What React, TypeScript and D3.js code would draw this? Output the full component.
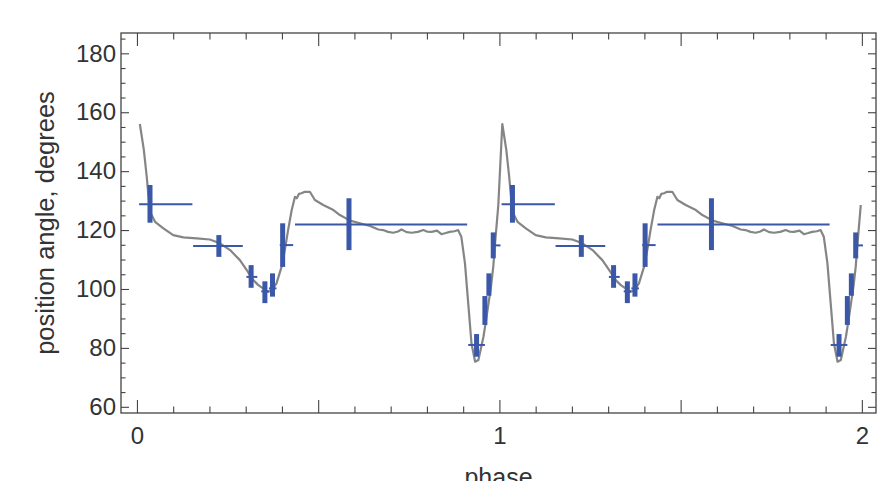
import React, { useRef, useEffect } from 'react';
import * as d3 from 'd3';

// Folded position-angle curve with binned measurements, plotted over two
// rotation phases. Frame ticks on all four sides, Mathematica-style.

const WIDTH = 887;
const HEIGHT = 481;
const FRAME = { left: 121, right: 876, top: 33, bottom: 413 };

const X_DOMAIN = [-0.044, 2.039];
const Y_DOMAIN = [57.9, 186.9];

// One period of the model curve (phase, position angle in degrees).
const curvePhase = [
  0.008, 0.019, 0.027, 0.032, 0.038, 0.05, 0.073, 0.1, 0.128, 0.165, 0.201, 0.229,
  0.257, 0.284, 0.303, 0.321, 0.335, 0.348, 0.36, 0.372, 0.385, 0.399, 0.408, 0.417,
  0.427, 0.436, 0.441, 0.447, 0.454, 0.463, 0.477, 0.491, 0.514, 0.542, 0.56, 0.588,
  0.615, 0.643, 0.666, 0.679, 0.693, 0.707, 0.72, 0.73, 0.744, 0.758, 0.775, 0.79,
  0.8, 0.813, 0.828, 0.84, 0.852, 0.863, 0.876, 0.886, 0.895, 0.905, 0.914, 0.923,
  0.933, 0.942, 0.956, 0.964, 0.97, 0.977, 0.983, 0.988, 0.997,
];
const curveAngle = [
  156.0, 147.2, 138.1, 131.3, 125.7, 122.8, 120.6, 118.3, 117.5, 117.2, 116.8, 115.5,
  113.2, 109.8, 106.4, 103.0, 101.3, 100.2, 99.0, 99.5, 101.9, 107.5, 113.2, 120.0,
  126.8, 131.3, 130.8, 132.3, 132.5, 133.0, 133.0, 130.2, 128.5, 126.8, 125.1, 123.2,
  122.3, 121.4, 120.2, 120.0, 119.4, 119.1, 119.5, 120.2, 119.3, 119.1, 119.4, 120.0,
  119.5, 119.4, 119.8, 118.6, 119.0, 119.4, 119.6, 120.0, 117.7, 108.7, 95.1, 81.5,
  75.3, 75.9, 83.8, 90.0, 95.1, 101.0, 107.5, 115.5, 128.5,
];

// Binned measurements for one period: centre, value, error range, bin edges.
const binPhase = [0.036, 0.226, 0.315, 0.353, 0.374, 0.402, 0.585, 0.937, 0.96, 0.971, 0.983];
const binAngle = [128.8, 114.6, 104.1, 99.2, 100.2, 114.9, 121.9, 81.0, 92.7, 101.5, 114.8];
const binLow = [122.5, 110.9, 100.4, 95.2, 97.4, 107.5, 113.2, 77.0, 87.8, 97.7, 110.4];
const binHigh = [135.3, 118.3, 108.1, 102.6, 105.3, 122.3, 130.8, 84.7, 97.6, 105.3, 119.2];
const binStart = [0.006, 0.155, 0.302, 0.343, 0.364, 0.394, 0.436, 0.914, 0.957, 0.967, 0.98];
const binEnd = [0.153, 0.292, 0.332, 0.364, 0.385, 0.431, 0.911, 0.96, 0.963, 0.975, 1.003];

const periods = [0, 1];
const xMajorTicks = [0, 0.5, 1, 1.5, 2];
const yMajorTicks = [60, 80, 100, 120, 140, 160, 180];

const FONT = '"Liberation Sans", Arial, sans-serif';
const CURVE_COLOR = '#858585';
const BAR_COLOR = '#3a57a8';
const FRAME_COLOR = '#444';
const TEXT_COLOR = '#333';

const App = () => {
  const svgRef = useRef<SVGSVGElement>(null);

  useEffect(() => {
    const svg = d3.select(svgRef.current).attr('width', WIDTH).attr('height', HEIGHT);
    svg.selectAll('*').remove();
    svg.append('rect').attr('width', WIDTH).attr('height', HEIGHT).attr('fill', 'white');

    const x = d3.scaleLinear().domain(X_DOMAIN).range([FRAME.left, FRAME.right]);
    const y = d3.scaleLinear().domain(Y_DOMAIN).range([FRAME.bottom, FRAME.top]);

    const xMinor = x.ticks(20).filter((t) => !xMajorTicks.some((m) => Math.abs(m - t) < 1e-9));
    const yMinor = y.ticks(26).filter((t) => !yMajorTicks.includes(t));

    // Curve, repeated for each period and joined into one line.
    const points = periods.flatMap((k) =>
      curvePhase.map((p, i) => ({ phase: p + k, angle: curveAngle[i] })),
    );
    const line = d3
      .line<{ phase: number; angle: number }>()
      .x((d) => x(d.phase))
      .y((d) => y(d.angle));
    svg
      .append('path')
      .datum(points)
      .attr('fill', 'none')
      .attr('stroke', CURVE_COLOR)
      .attr('stroke-width', 2.2)
      .attr('stroke-linejoin', 'round')
      .attr('d', line);

    // Binned points: thin horizontal bin width, thick vertical error bar.
    const bins = periods.flatMap((k) =>
      binPhase.map((p, i) => ({
        phase: p + k,
        angle: binAngle[i],
        lo: binLow[i],
        hi: binHigh[i],
        start: binStart[i] + k,
        end: binEnd[i] + k,
      })),
    );
    const gBars = svg.append('g').attr('stroke', BAR_COLOR);
    gBars
      .selectAll('line.h')
      .data(bins)
      .enter()
      .append('line')
      .attr('class', 'h')
      .attr('x1', (d) => x(d.start))
      .attr('x2', (d) => x(d.end))
      .attr('y1', (d) => y(d.angle))
      .attr('y2', (d) => y(d.angle))
      .attr('stroke-width', 2);
    gBars
      .selectAll('line.v')
      .data(bins)
      .enter()
      .append('line')
      .attr('class', 'v')
      .attr('x1', (d) => x(d.phase))
      .attr('x2', (d) => x(d.phase))
      .attr('y1', (d) => y(d.lo))
      .attr('y2', (d) => y(d.hi))
      .attr('stroke-width', 5);

    // Frame ticks, pointing inward on all four sides.
    const styleAxis = (g) => {
      g.select('.domain').remove();
      g.attr('color', FRAME_COLOR).attr('font-family', FONT).attr('font-size', 24);
      g.selectAll('line').attr('stroke-width', 1.1);
      g.selectAll('text').attr('fill', TEXT_COLOR);
    };
    const noLabel = () => '';

    svg
      .append('g')
      .attr('transform', `translate(0,${FRAME.bottom})`)
      .call(d3.axisBottom(x).tickValues(xMinor).tickSize(-6.5).tickFormat(noLabel))
      .call(styleAxis);
    svg
      .append('g')
      .attr('transform', `translate(0,${FRAME.bottom})`)
      .call(
        d3
          .axisBottom(x)
          .tickValues(xMajorTicks)
          .tickSize(-13)
          .tickPadding(14)
          .tickFormat((v) => (Number.isInteger(v) ? String(v) : '')),
      )
      .call(styleAxis);
    svg
      .append('g')
      .attr('transform', `translate(0,${FRAME.top})`)
      .call(d3.axisTop(x).tickValues(xMinor).tickSize(-6.5).tickFormat(noLabel))
      .call(styleAxis);
    svg
      .append('g')
      .attr('transform', `translate(0,${FRAME.top})`)
      .call(d3.axisTop(x).tickValues(xMajorTicks).tickSize(-13).tickFormat(noLabel))
      .call(styleAxis);

    svg
      .append('g')
      .attr('transform', `translate(${FRAME.left},0)`)
      .call(d3.axisLeft(y).tickValues(yMinor).tickSize(-4.5).tickFormat(noLabel))
      .call(styleAxis);
    svg
      .append('g')
      .attr('transform', `translate(${FRAME.left},0)`)
      .call(d3.axisLeft(y).tickValues(yMajorTicks).tickSize(-8).tickPadding(5).tickFormat(d3.format('d')))
      .call(styleAxis);
    svg
      .append('g')
      .attr('transform', `translate(${FRAME.right},0)`)
      .call(d3.axisRight(y).tickValues(yMinor).tickSize(-4.5).tickFormat(noLabel))
      .call(styleAxis);
    svg
      .append('g')
      .attr('transform', `translate(${FRAME.right},0)`)
      .call(d3.axisRight(y).tickValues(yMajorTicks).tickSize(-8).tickFormat(noLabel))
      .call(styleAxis);

    svg
      .append('rect')
      .attr('x', FRAME.left)
      .attr('y', FRAME.top)
      .attr('width', FRAME.right - FRAME.left)
      .attr('height', FRAME.bottom - FRAME.top)
      .attr('fill', 'none')
      .attr('stroke', FRAME_COLOR)
      .attr('stroke-width', 1.3);

    // Axis labels; the x label sits partly below the bottom edge, as in the source.
    svg
      .append('text')
      .attr('x', (FRAME.left + FRAME.right) / 2)
      .attr('y', 486)
      .attr('text-anchor', 'middle')
      .attr('font-family', FONT)
      .attr('font-size', 25)
      .attr('fill', TEXT_COLOR)
      .text('phase');
    svg
      .append('text')
      .attr('transform', 'rotate(-90)')
      .attr('x', -(FRAME.top + FRAME.bottom) / 2)
      .attr('y', 54)
      .attr('text-anchor', 'middle')
      .attr('font-family', FONT)
      .attr('font-size', 25.5)
      .attr('fill', TEXT_COLOR)
      .text('position angle, degrees');
  }, []);

  return <svg ref={svgRef} style={{ position: 'absolute', left: 0, top: 0, display: 'block' }} />;
};

export default App;
